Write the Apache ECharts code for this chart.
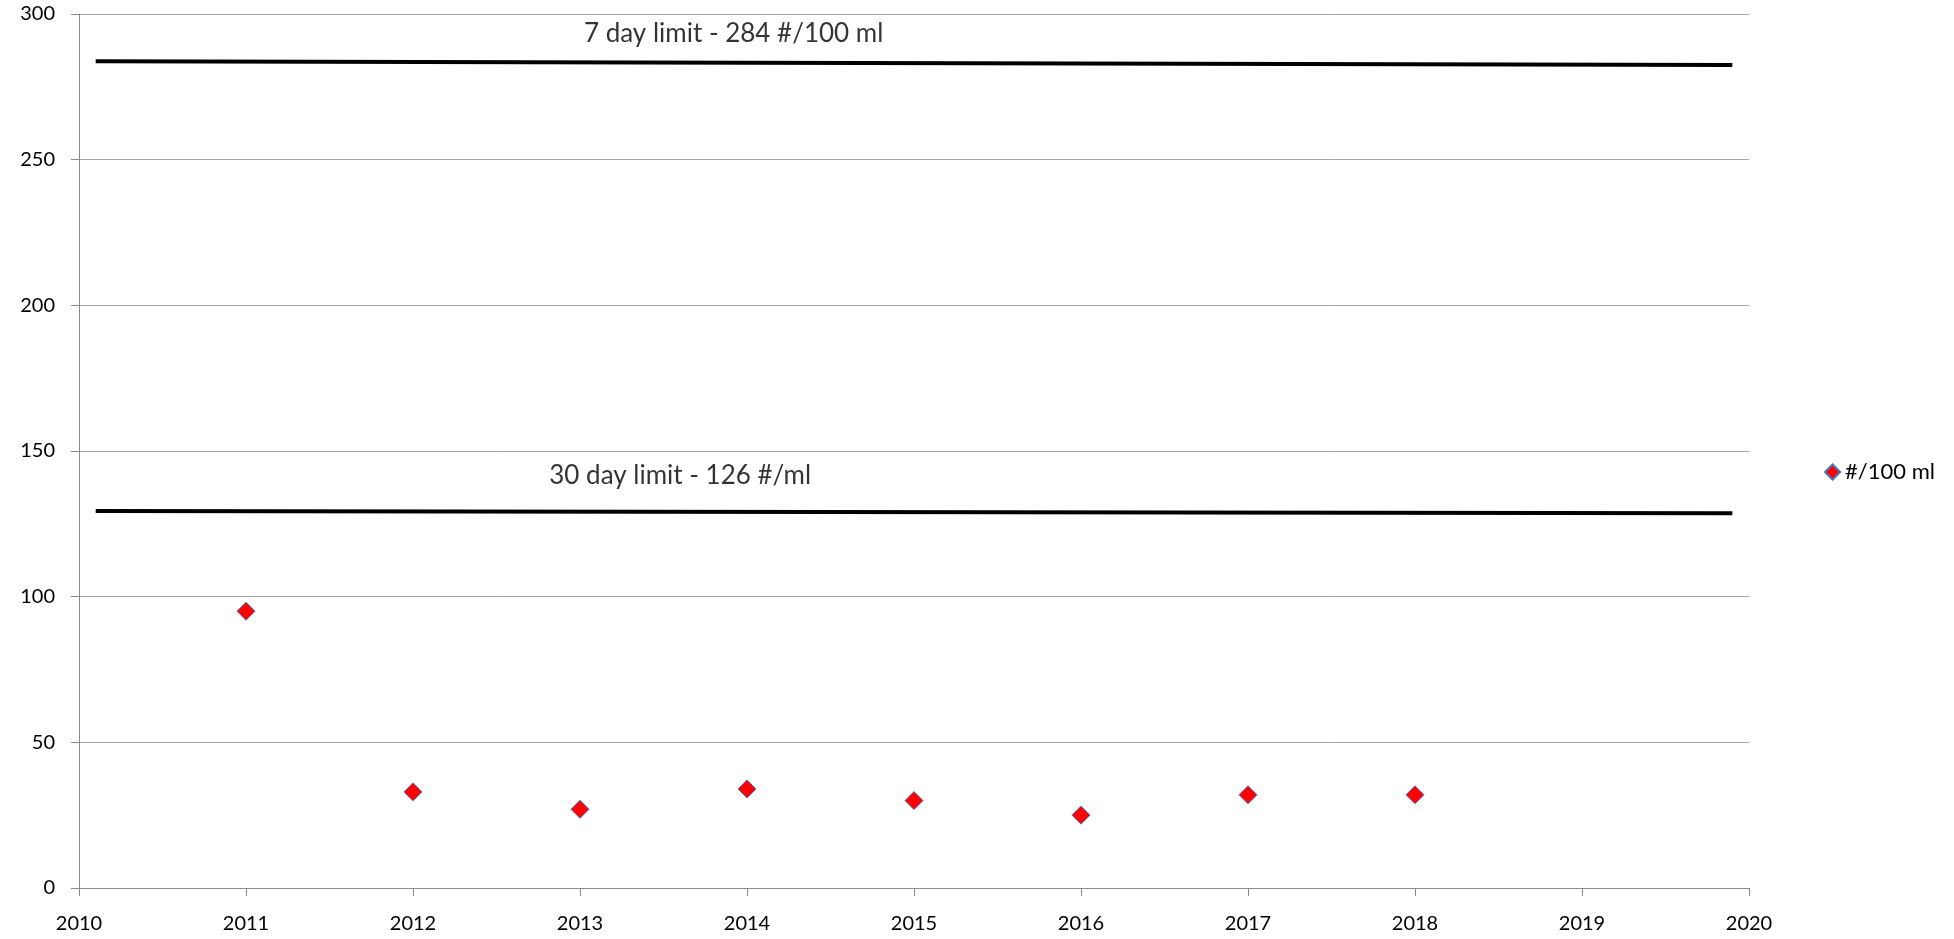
<!DOCTYPE html>
<html>
<head>
<meta charset="utf-8">
<script src="https://cdn.jsdelivr.net/npm/echarts@6/dist/echarts.min.js"></script>
<style>html,body{margin:0;padding:0;background:#fff}#c{width:1954px;height:939px}</style>
</head>
<body>
<div id="c"></div>
<script>
const years = [2011, 2012, 2013, 2014, 2015, 2016, 2017, 2018];
const values = [95, 33, 27, 34, 30, 25, 32, 32];
const limit7X = [2010.1, 2019.9];
const limit7Y = [283.8, 282.5];
const limit30X = [2010.1, 2019.9];
const limit30Y = [129.4, 128.6];
const limit7Label = '7 day limit - 284 #/100 ml';
const limit30Label = '30 day limit - 126 #/ml';
const limit7LabelPos = [2013.92, 293.3];
const limit30LabelPos = [2013.6, 141.7];
const seriesName = '#/100 ml';

const FONT = 'Lato';
const chart = echarts.init(document.getElementById('c'));
chart.setOption({
  animation: false,
  backgroundColor: '#fff',
  textStyle: {fontFamily: FONT},
  grid: {left: 79, right: 205, top: 14, bottom: 51},
  legend: {
    data: [{name: seriesName, icon: 'diamond'}],
    right: 14, top: 456, itemWidth: 15, itemHeight: 15, itemGap: 4,
    textStyle: {fontFamily: FONT, fontSize: 22, color: '#000'}
  },
  xAxis: {
    type: 'value', min: 2010, max: 2020, interval: 1,
    axisLine: {show: true, lineStyle: {color: '#8c8c8c', width: 1}},
    axisTick: {show: true, length: 8, lineStyle: {color: '#8c8c8c'}},
    axisLabel: {color: '#000', fontSize: 20, fontFamily: FONT, margin: 26, formatter: v => String(v)},
    splitLine: {show: false}
  },
  yAxis: {
    type: 'value', min: 0, max: 300, interval: 50,
    axisLine: {show: true, lineStyle: {color: '#8c8c8c', width: 1}},
    axisTick: {show: true, length: 8, lineStyle: {color: '#8c8c8c'}},
    axisLabel: {color: '#000', fontSize: 20, fontFamily: FONT, margin: 24},
    splitLine: {show: true, lineStyle: {color: '#a6a6a6', width: 1}}
  },
  series: [
    {
      name: 'limit7', type: 'line', symbol: 'none',
      data: limit7X.map((x, i) => [x, limit7Y[i]]),
      lineStyle: {color: '#000', width: 4}, z: 3
    },
    {
      name: 'limit30', type: 'line', symbol: 'none',
      data: limit30X.map((x, i) => [x, limit30Y[i]]),
      lineStyle: {color: '#000', width: 4}, z: 3
    },
    {
      name: 'labels', type: 'scatter', symbolSize: 0, silent: true,
      data: [
        {value: limit7LabelPos, label: {formatter: limit7Label}},
        {value: limit30LabelPos, label: {formatter: limit30Label}}
      ],
      label: {show: true, position: 'inside', color: '#000', fontSize: 26, fontFamily: FONT}
    },
    {
      name: seriesName, type: 'scatter', symbol: 'diamond', symbolSize: 18,
      data: years.map((y, i) => [y, values[i]]),
      itemStyle: {color: '#ff0000', opacity: 1, borderColor: '#4a6fc0', borderWidth: 1},
      z: 5
    }
  ]
});
</script>
</body>
</html>
